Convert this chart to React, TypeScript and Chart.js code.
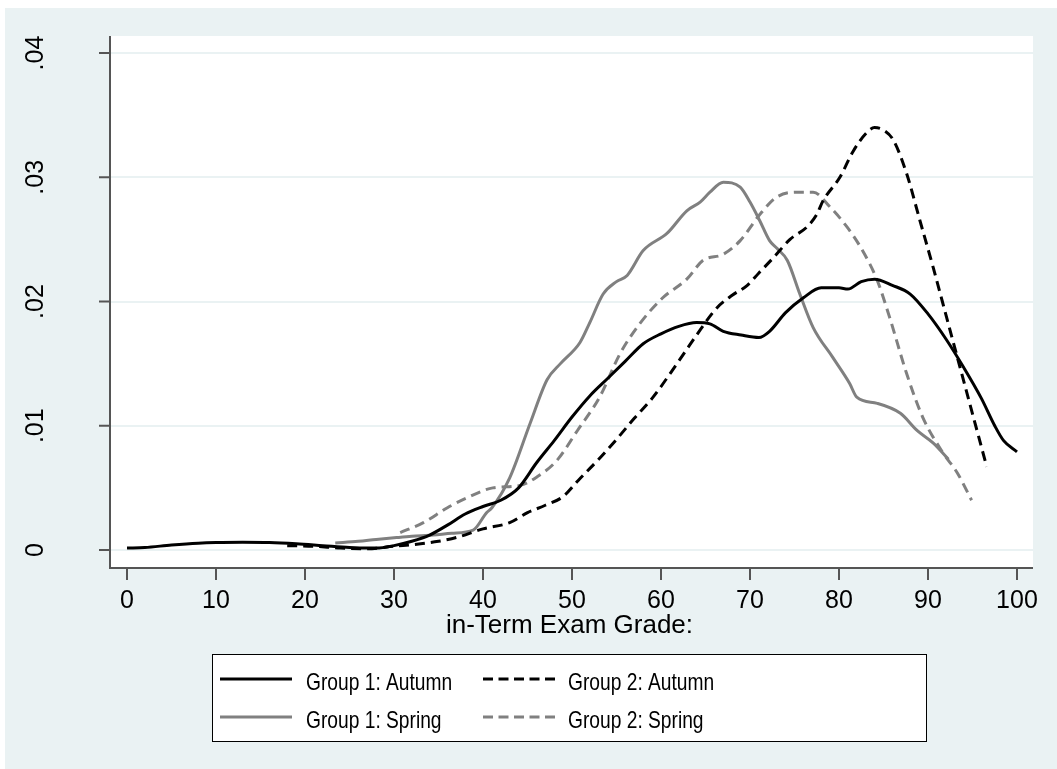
import React, { useEffect, useRef } from 'react';
import { Chart, registerables } from 'chart.js';

Chart.register(...registerables);

// ---- Data (kernel density estimates) ----
const xTickValues = [0, 10, 20, 30, 40, 50, 60, 70, 80, 90, 100];
const xTickLabels = ['0', '10', '20', '30', '40', '50', '60', '70', '80', '90', '100'];
const yTickValues = [0, 0.01, 0.02, 0.03, 0.04];
const yTickLabels = ['0', '.01', '.02', '.03', '.04'];
const xAxisTitle = 'in-Term Exam Grade:';
const seriesNames = ['Group 1: Autumn', 'Group 2: Autumn', 'Group 1: Spring', 'Group 2: Spring'];

const g1AutumnX = [0, 2, 5, 8, 10, 13, 16, 19, 22, 25, 27, 28, 30, 32, 34, 36, 38, 40, 42, 44, 46, 48, 50, 52, 54, 56, 58, 60, 62, 64, 65.5, 67, 69, 71, 72.2, 74, 76, 78, 80, 81, 82.5, 84, 86, 88, 90, 92, 94, 96, 97.5, 98.5, 100];
const g1AutumnY = [0.00015, 0.0002, 0.0004, 0.00055, 0.0006, 0.00062, 0.0006, 0.0005, 0.00035, 0.0002, 0.00015, 0.00015, 0.00035, 0.0007, 0.0012, 0.002, 0.0029, 0.0035, 0.004, 0.005, 0.007, 0.0088, 0.0107, 0.0124, 0.0138, 0.0152, 0.0166, 0.0174, 0.018, 0.0183, 0.0182, 0.0176, 0.0173, 0.0171, 0.0176, 0.0191, 0.0203, 0.0211, 0.0211, 0.021, 0.0216, 0.0218, 0.0213, 0.0206, 0.019, 0.017, 0.0147, 0.0122, 0.01, 0.0088, 0.0079];

const g2AutumnX = [18, 21, 24, 27, 30, 33, 35, 37, 40, 43, 45, 47, 49, 50.7, 53, 55, 57, 59, 61.8, 64, 66.3, 68, 69.7, 71, 72.6, 74.5, 76.4, 77.5, 78.2, 80.1, 81.6, 83, 84, 85, 86.1, 87.6, 89.1, 90.6, 92.1, 93.6, 95.1, 96.6];
const g2AutumnY = [0.00035, 0.0003, 0.00015, 0.0001, 0.0003, 0.0005, 0.0007, 0.001, 0.0017, 0.0022, 0.003, 0.0036, 0.0043, 0.0056, 0.0073, 0.0089, 0.0106, 0.0122, 0.015, 0.0173, 0.0195, 0.0205, 0.0213, 0.0223, 0.0235, 0.025, 0.026, 0.027, 0.0281, 0.03, 0.0321, 0.0335, 0.034, 0.0338, 0.033, 0.0303, 0.0265, 0.0227, 0.0187, 0.0147, 0.0107, 0.0067];

const g1SpringX = [23.4, 26, 28, 30.3, 32, 34.4, 36.5, 38.9, 40.4, 41, 43, 45.3, 47.2, 48.7, 50.9, 52, 53.5, 55, 56.2, 58, 60.7, 62.9, 64.4, 65.5, 67, 68.9, 70, 71.1, 72.2, 73, 74.2, 75.6, 77.1, 79.3, 81.2, 82, 84.3, 86.9, 88.8, 90.6, 92.3];
const g1SpringY = [0.00056, 0.0007, 0.00085, 0.001, 0.0011, 0.0012, 0.00135, 0.0016, 0.003, 0.0034, 0.0058, 0.0102, 0.0137, 0.015, 0.0167, 0.0183, 0.0206, 0.0216, 0.0221, 0.0241, 0.0255, 0.0273, 0.028, 0.0288, 0.0296, 0.0292, 0.028, 0.0265, 0.0249, 0.0243, 0.0233, 0.0206, 0.0179, 0.0155, 0.0134, 0.0123, 0.0118, 0.011, 0.0096, 0.0086, 0.0073];

const g2SpringX = [30.7, 33.3, 36, 38.2, 41.1, 44.2, 46.1, 48.3, 50.6, 53.1, 55.4, 57.6, 60.2, 62.9, 64.7, 67, 68.9, 71.1, 73, 75.3, 77.1, 79, 80.9, 82.4, 84.3, 85.7, 87.6, 89.4, 91.7, 93.3, 94.9];
const g2SpringY = [0.0014, 0.0022, 0.0034, 0.0042, 0.005, 0.0052, 0.0059, 0.0072, 0.0096, 0.0123, 0.0158, 0.0182, 0.0203, 0.0218, 0.0233, 0.0238, 0.0249, 0.027, 0.0284, 0.0288, 0.0288, 0.0276, 0.026, 0.0244, 0.0217, 0.0187, 0.0142, 0.0107, 0.0078, 0.0062, 0.004];

// ---- Styles ----
const BG = '#EAF2F3';
const GRID = '#EAF2F3';
const AXIS = '#555555';
const BLACK = '#000000';
const GRAY = '#808080';
const FONT = '"Liberation Sans", Arial, Helvetica, sans-serif';
const DASH = [10, 6];

const toPts = (xs: number[], ys: number[]) => xs.map((x, i) => ({ x, y: ys[i] }));

const W = 1052;
const H = 761;

const stataPlugin = {
  id: 'stataDecor',
  beforeDraw(chart: any) {
    const { ctx, chartArea: ca, scales } = chart;
    ctx.save();
    ctx.fillStyle = BG;
    ctx.fillRect(0, 0, W, H);
    ctx.fillStyle = '#ffffff';
    ctx.fillRect(ca.left, ca.top, ca.right - ca.left, ca.bottom - ca.top);
    // horizontal gridlines
    ctx.strokeStyle = GRID;
    ctx.lineWidth = 2;
    yTickValues.forEach((v) => {
      const py = Math.round(scales.y.getPixelForValue(v));
      ctx.beginPath();
      ctx.moveTo(ca.left, py);
      ctx.lineTo(ca.right, py);
      ctx.stroke();
    });
    ctx.restore();
  },
  afterDraw(chart: any) {
    const { ctx, chartArea: ca, scales } = chart;
    ctx.save();
    // axes lines
    ctx.strokeStyle = AXIS;
    ctx.lineWidth = 2;
    ctx.beginPath();
    ctx.moveTo(ca.left, ca.top);
    ctx.lineTo(ca.left, ca.bottom);
    ctx.lineTo(ca.right, ca.bottom);
    ctx.stroke();
    // y ticks + labels
    ctx.fillStyle = '#000';
    ctx.font = `25px ${FONT}`;
    yTickValues.forEach((v, i) => {
      const py = scales.y.getPixelForValue(v);
      ctx.beginPath();
      ctx.moveTo(ca.left - 11, py);
      ctx.lineTo(ca.left, py);
      ctx.stroke();
      ctx.save();
      ctx.translate(38, py);
      ctx.rotate(-Math.PI / 2);
      ctx.textAlign = 'center';
      ctx.textBaseline = 'alphabetic';
      ctx.fillText(yTickLabels[i], 0, 0);
      ctx.restore();
    });
    // x ticks + labels
    ctx.textAlign = 'center';
    ctx.textBaseline = 'alphabetic';
    xTickValues.forEach((v, i) => {
      const px = scales.x.getPixelForValue(v);
      ctx.beginPath();
      ctx.moveTo(px, ca.bottom);
      ctx.lineTo(px, ca.bottom + 12);
      ctx.stroke();
      ctx.fillText(xTickLabels[i], px, 600);
    });
    // x title
    ctx.font = `26px ${FONT}`;
    ctx.fillText(xAxisTitle, (ca.left + ca.right) / 2 - 2, 625);

    // legend
    const lx = 207, ly = 646, lw = 715, lh = 88;
    ctx.fillStyle = '#ffffff';
    ctx.fillRect(lx, ly, lw, lh);
    ctx.strokeStyle = '#000';
    ctx.lineWidth = 1;
    ctx.strokeRect(lx + 0.5, ly + 0.5, lw - 1, lh - 1);
    const items = [
      { name: seriesNames[0], color: BLACK, dash: [] as number[], lx0: 215, tx: 301, y: 671 },
      { name: seriesNames[1], color: BLACK, dash: [10, 5.5], lx0: 478, tx: 563, y: 671 },
      { name: seriesNames[2], color: GRAY, dash: [] as number[], lx0: 215, tx: 301, y: 709 },
      { name: seriesNames[3], color: GRAY, dash: [10, 5.5], lx0: 478, tx: 563, y: 709 },
    ];
    items.forEach((it) => {
      ctx.strokeStyle = it.color;
      ctx.lineWidth = 3;
      ctx.setLineDash(it.dash);
      ctx.beginPath();
      ctx.moveTo(it.lx0, it.y);
      ctx.lineTo(it.lx0 + 72, it.y);
      ctx.stroke();
      ctx.setLineDash([]);
      ctx.save();
      ctx.translate(it.tx, it.y + 11);
      ctx.scale(0.8, 1);
      ctx.fillStyle = '#000';
      ctx.font = `24px ${FONT}`;
      ctx.textAlign = 'left';
      ctx.textBaseline = 'alphabetic';
      ctx.fillText(it.name, 0, 0);
      ctx.restore();
    });
    ctx.restore();
  },
};

export default function App() {
  const ref = useRef<HTMLCanvasElement | null>(null);
  useEffect(() => {
    if (!ref.current) return;
    const chart = new Chart(ref.current, {
      type: 'line',
      data: {
        datasets: [
          { label: seriesNames[0], data: toPts(g1AutumnX, g1AutumnY), borderColor: BLACK, borderWidth: 3 },
          { label: seriesNames[1], data: toPts(g2AutumnX, g2AutumnY), borderColor: BLACK, borderWidth: 3, borderDash: DASH },
          { label: seriesNames[2], data: toPts(g1SpringX, g1SpringY), borderColor: GRAY, borderWidth: 3 },
          { label: seriesNames[3], data: toPts(g2SpringX, g2SpringY), borderColor: GRAY, borderWidth: 3, borderDash: DASH },
        ].map((d) => ({ ...d, fill: false, pointRadius: 0, cubicInterpolationMode: 'monotone' as const })),
      },
      options: {
        animation: false,
        responsive: false,
        layout: { padding: { left: 105, top: 28, right: 24, bottom: 201 } },
        plugins: { legend: { display: false }, tooltip: { enabled: false } },
        scales: {
          x: { type: 'linear', min: -1.91, max: 101.8, display: false },
          y: { type: 'linear', min: -0.00145, max: 0.04137, display: false },
        },
      },
      plugins: [stataPlugin],
    });
    return () => chart.destroy();
  }, []);
  return (
    <div style={{ position: 'absolute', left: 5, top: 8, width: W, height: H }}>
      <canvas ref={ref} width={W} height={H} style={{ display: 'block' }} />
    </div>
  );
}
